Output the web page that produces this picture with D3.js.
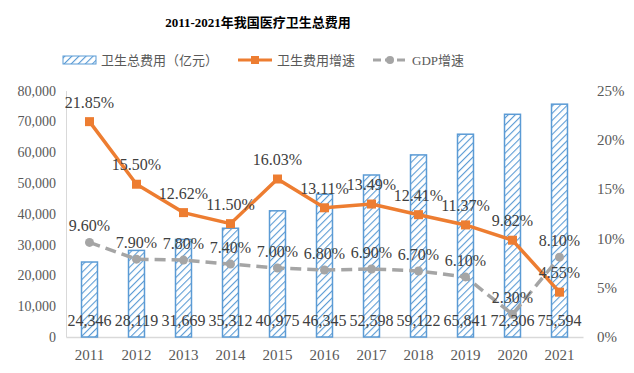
<!DOCTYPE html>
<html><head><meta charset="utf-8">
<script src="https://cdn.jsdelivr.net/npm/d3@7"></script>
<style>body{margin:0;background:#fff}svg{display:block}</style>
</head><body>
<svg id="c" width="634" height="373"></svg>
<script>
const years = ["2011","2012","2013","2014","2015","2016","2017","2018","2019","2020","2021"];
const totalSpend = [24346,28119,31669,35312,40975,46345,52598,59122,65841,72306,75594];
const spendGrowth = [21.85,15.50,12.62,11.50,16.03,13.11,13.49,12.41,11.37,9.82,4.55];
const gdpGrowth = [9.60,7.90,7.80,7.40,7.00,6.80,6.90,6.70,6.10,2.30,8.10];
const leftTicks = [0,10000,20000,30000,40000,50000,60000,70000,80000];
const rightTicks = [0,5,10,15,20,25];
const titleText = "2011-2021年我国医疗卫生总费用";
const legendNames = ["卫生总费用（亿元）","卫生费用增速","GDP增速"];

const serif = "'Liberation Serif','Times New Roman','Noto Sans CJK SC',serif";
const txt = "#595959", blue = "#5B9BD5", orange = "#ED7D31", gray = "#A5A5A5";
const svg = d3.select("#c");
const L = 66, R = 583, T = 90.6, B = 337;

const x = d3.scaleBand().domain(years).range([L, R]).paddingInner(0.66).paddingOuter(0.33);
const y = d3.scaleLinear().domain([0, 80000]).range([B, T]);
const y2 = d3.scaleLinear().domain([0, 25]).range([B, T]);
const cx = d => x(d) + x.bandwidth() / 2;

// hatch pattern
const defs = svg.append("defs");
const pat = defs.append("pattern").attr("id","hatch").attr("patternUnits","userSpaceOnUse")
  .attr("width",5).attr("height",5).attr("patternTransform","rotate(45)");
pat.append("rect").attr("width",5).attr("height",5).attr("fill","#fff");
pat.append("line").attr("x1",0).attr("y1",0).attr("x2",0).attr("y2",5)
  .attr("stroke",blue).attr("stroke-width",2.2);

// title
svg.append("text").attr("x",258).attr("y",27).attr("text-anchor","middle")
  .attr("font-family",serif).attr("font-weight","bold").attr("font-size",13).attr("fill","#000")
  .text(titleText);

// legend
const lg = svg.append("g").attr("font-family",serif).attr("font-size",13).attr("fill",txt);
lg.append("rect").attr("x",63).attr("y",56).attr("width",33).attr("height",8)
  .attr("fill","url(#hatch)").attr("stroke",blue).attr("stroke-width",1);
lg.append("text").attr("x",101).attr("y",65).text(legendNames[0]);
lg.append("line").attr("x1",238).attr("x2",272).attr("y1",60).attr("y2",60).attr("stroke",orange).attr("stroke-width",3);
lg.append("rect").attr("x",251).attr("y",56).attr("width",8).attr("height",8).attr("fill",orange);
lg.append("text").attr("x",277).attr("y",65).text(legendNames[1]);
lg.append("line").attr("x1",373).attr("x2",407).attr("y1",60).attr("y2",60).attr("stroke",gray).attr("stroke-width",3).attr("stroke-dasharray","8,4");
lg.append("circle").attr("cx",390).attr("cy",60).attr("r",4).attr("fill",gray);
lg.append("text").attr("x",412).attr("y",65).text(legendNames[2]);

// axes
const yAxis = d3.axisLeft(y).tickValues(leftTicks).tickFormat(d3.format(",")).tickSize(0).tickPadding(10);
const gy = svg.append("g").attr("transform",`translate(${L},0)`).call(yAxis);
gy.select(".domain").attr("stroke","#D9D9D9");
gy.selectAll("text").attr("font-family",serif).attr("font-size",14).attr("fill",txt);

const y2Axis = d3.axisRight(y2).tickValues(rightTicks).tickFormat(d => d + "%").tickSize(0).tickPadding(14);
const gy2 = svg.append("g").attr("transform",`translate(${R},0)`).call(y2Axis);
gy2.select(".domain").remove();
gy2.selectAll("text").attr("font-family",serif).attr("font-size",15).attr("fill",txt);

const xAxis = d3.axisBottom(x).tickSize(0).tickPadding(12);
const gx = svg.append("g").attr("transform",`translate(0,${B})`).call(xAxis);
gx.select(".domain").attr("stroke","#D9D9D9").attr("stroke-width",1.5);
gx.selectAll("text").attr("font-family",serif).attr("font-size",15).attr("fill",txt);

// bars
svg.append("g").selectAll("rect").data(years).join("rect")
  .attr("x", d => x(d)).attr("width", x.bandwidth())
  .attr("y", (d,i) => y(totalSpend[i])).attr("height", (d,i) => B - y(totalSpend[i]))
  .attr("fill","url(#hatch)").attr("stroke",blue).attr("stroke-width",1.5);

// GDP line
const lineG = d3.line().x((d,i) => cx(years[i])).y(d => y2(d));
svg.append("path").datum(gdpGrowth).attr("d", lineG).attr("fill","none")
  .attr("stroke",gray).attr("stroke-width",3.5).attr("stroke-dasharray","11,6");
svg.append("g").selectAll("circle").data(gdpGrowth).join("circle")
  .attr("cx",(d,i)=>cx(years[i])).attr("cy",d=>y2(d)).attr("r",4.5).attr("fill",gray);

// spend growth line
svg.append("path").datum(spendGrowth).attr("d", lineG).attr("fill","none")
  .attr("stroke",orange).attr("stroke-width",3.5);
svg.append("g").selectAll("rect").data(spendGrowth).join("rect")
  .attr("x",(d,i)=>cx(years[i])-4.5).attr("y",d=>y2(d)-4.5).attr("width",9).attr("height",9).attr("fill",orange);

// labels
const lab = svg.append("g").attr("font-family",serif).attr("font-size",16).attr("fill","#404040").attr("text-anchor","middle");
lab.selectAll(".b").data(totalSpend).join("text").attr("class","b")
  .attr("x",(d,i)=>cx(years[i])).attr("y",326).text(d => d3.format(",")(d));
lab.selectAll(".g").data(gdpGrowth).join("text").attr("class","g")
  .attr("x",(d,i)=>cx(years[i])).attr("y",d=>y2(d)-11).text(d => d.toFixed(2)+"%");
lab.selectAll(".s").data(spendGrowth).join("text").attr("class","s")
  .attr("x",(d,i)=>cx(years[i])).attr("y",d=>y2(d)-14).text(d => d.toFixed(2)+"%");
</script>
</body></html>
